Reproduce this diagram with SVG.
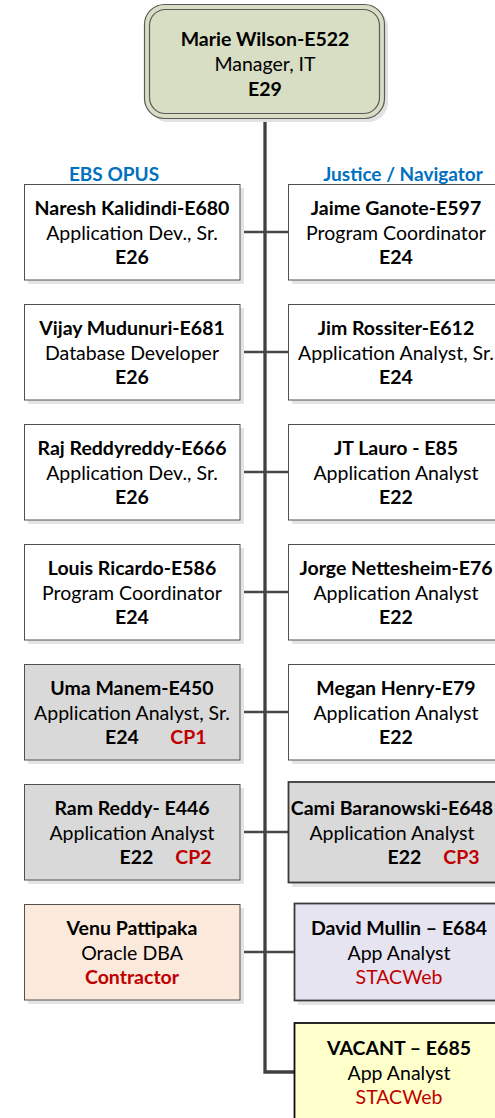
<svg xmlns="http://www.w3.org/2000/svg" width="495" height="1118" viewBox="0 0 495 1118">
  <style>
    text { font-family: Lato, "Liberation Sans", sans-serif; font-size: 19.5px; fill: #000; text-anchor: middle; }
    .b { font-weight: bold; }
    .red { fill: #c00000; }
    .hdr { fill: #0070c0; font-weight: bold; font-size: 19px; }
    .shadow { fill: #e4e4e4; }
    .box { stroke: #505050; stroke-width: 1; }
    .dark { stroke: #3a3a3a; stroke-width: 1.8; }
    .white { fill: #ffffff; }
    .grey { fill: #d9d9d9; }
    .peach { fill: #fbe9db; }
    .lav { fill: #e6e4f0; }
    .yellow { fill: #ffffcc; }
    .link { fill: none; stroke: #474747; stroke-width: 2.5; }
    .trunk { fill: none; stroke: #404040; stroke-width: 3.3; }
  </style>

  <!-- connectors -->
  <g id="connectors">
    <path class="trunk" d="M265 118 V1072 H294"/>
    <path class="link" d="M240 232 H288"/>
    <path class="link" d="M240 352 H288"/>
    <path class="link" d="M240 472 H288"/>
    <path class="link" d="M240 592 H288"/>
    <path class="link" d="M240 712 H288"/>
    <path class="link" d="M240 832 H288"/>
    <path class="link" d="M240 952 H294"/>
  </g>

  <!-- manager -->
  <g id="marie-wilson">
    <rect x="148" y="8" width="240" height="114" rx="20" fill="#e2e2e2"/>
    <rect x="144.5" y="4.5" width="240" height="114" rx="20" fill="#d8dec3" stroke="#5a5a5a" stroke-width="1.2"/>
    <rect x="149.5" y="9.5" width="230" height="104" rx="16" fill="none" stroke="#5a5a5a" stroke-width="1.2"/>
    <text x="265" y="46" class="b">Marie Wilson-E522</text>
    <text x="265" y="71">Manager, IT</text>
    <text x="265" y="96" class="b">E29</text>
  </g>

  <!-- team headings -->
  <text id="hdr-ebs" x="114" y="181" class="hdr">EBS OPUS</text>
  <text id="hdr-justice" x="403" y="181" class="hdr">Justice / Navigator</text>

  <!-- left column -->
  <g id="naresh-kalidindi">
    <rect class="shadow" x="28" y="188" width="216" height="96"/>
    <rect class="box white" x="24.5" y="184.5" width="215.5" height="95.5"/>
    <text x="132" y="215" class="b">Naresh Kalidindi-E680</text>
    <text x="132" y="240">Application Dev., Sr.</text>
    <text x="132" y="264" class="b">E26</text>
  </g>
  <g id="vijay-mudunuri">
    <rect class="shadow" x="28" y="308" width="216" height="96"/>
    <rect class="box white" x="24.5" y="304.5" width="215.5" height="95.5"/>
    <text x="132" y="335" class="b">Vijay Mudunuri-E681</text>
    <text x="132" y="360">Database Developer</text>
    <text x="132" y="384" class="b">E26</text>
  </g>
  <g id="raj-reddyreddy">
    <rect class="shadow" x="28" y="428" width="216" height="96"/>
    <rect class="box white" x="24.5" y="424.5" width="215.5" height="95.5"/>
    <text x="132" y="455" class="b">Raj Reddyreddy-E666</text>
    <text x="132" y="480">Application Dev., Sr.</text>
    <text x="132" y="504" class="b">E26</text>
  </g>
  <g id="louis-ricardo">
    <rect class="shadow" x="28" y="548" width="216" height="96"/>
    <rect class="box white" x="24.5" y="544.5" width="215.5" height="95.5"/>
    <text x="132" y="575" class="b">Louis Ricardo-E586</text>
    <text x="132" y="600">Program Coordinator</text>
    <text x="132" y="624" class="b">E24</text>
  </g>
  <g id="uma-manem">
    <rect class="shadow" x="28" y="668" width="216" height="96"/>
    <rect class="box grey" x="24.5" y="664.5" width="215.5" height="95.5"/>
    <text x="132" y="695" class="b">Uma Manem-E450</text>
    <text x="132" y="720">Application Analyst, Sr.</text>
    <text x="122" y="744" class="b">E24</text>
    <text x="188.5" y="744" class="b red">CP1</text>
  </g>
  <g id="ram-reddy">
    <rect class="shadow" x="28" y="788" width="216" height="96"/>
    <rect class="box grey" x="24.5" y="784.5" width="215.5" height="95.5"/>
    <text x="132" y="815" class="b">Ram Reddy- E446</text>
    <text x="132" y="840">Application Analyst</text>
    <text x="136.5" y="864" class="b">E22</text>
    <text x="193.5" y="864" class="b red">CP2</text>
  </g>
  <g id="venu-pattipaka">
    <rect class="shadow" x="28" y="908" width="216" height="96"/>
    <rect class="box peach" x="24.5" y="904.5" width="215.5" height="95.5"/>
    <text x="132" y="935" class="b">Venu Pattipaka</text>
    <text x="132" y="960">Oracle DBA</text>
    <text x="132" y="984" class="b red">Contractor</text>
  </g>

  <!-- right column -->
  <g id="jaime-ganote">
    <rect class="shadow" x="292" y="188" width="216" height="96"/>
    <rect class="box white" x="288.5" y="184.5" width="215.5" height="95.5"/>
    <text x="396" y="215" class="b">Jaime Ganote-E597</text>
    <text x="396" y="240">Program Coordinator</text>
    <text x="396" y="264" class="b">E24</text>
  </g>
  <g id="jim-rossiter">
    <rect class="shadow" x="292" y="308" width="216" height="96"/>
    <rect class="box white" x="288.5" y="304.5" width="215.5" height="95.5"/>
    <text x="396" y="335" class="b">Jim Rossiter-E612</text>
    <text x="396" y="360">Application Analyst, Sr.</text>
    <text x="396" y="384" class="b">E24</text>
  </g>
  <g id="jt-lauro">
    <rect class="shadow" x="292" y="428" width="216" height="96"/>
    <rect class="box white" x="288.5" y="424.5" width="215.5" height="95.5"/>
    <text x="396" y="455" class="b">JT Lauro - E85</text>
    <text x="396" y="480">Application Analyst</text>
    <text x="396" y="504" class="b">E22</text>
  </g>
  <g id="jorge-nettesheim">
    <rect class="shadow" x="292" y="548" width="216" height="96"/>
    <rect class="box white" x="288.5" y="544.5" width="215.5" height="95.5"/>
    <text x="396" y="575" class="b">Jorge Nettesheim-E76</text>
    <text x="396" y="600">Application Analyst</text>
    <text x="396" y="624" class="b">E22</text>
  </g>
  <g id="megan-henry">
    <rect class="shadow" x="292" y="668" width="216" height="96"/>
    <rect class="box white" x="288.5" y="664.5" width="215.5" height="95.5"/>
    <text x="396" y="695" class="b">Megan Henry-E79</text>
    <text x="396" y="720">Application Analyst</text>
    <text x="396" y="744" class="b">E22</text>
  </g>
  <g id="cami-baranowski">
    <rect class="shadow" x="292" y="786" width="212" height="101"/>
    <rect class="dark grey" x="288.5" y="782" width="208" height="100.5"/>
    <text x="392" y="815" class="b">Cami Baranowski-E648</text>
    <text x="392" y="840">Application Analyst</text>
    <text x="404.5" y="864" class="b">E22</text>
    <text x="461.5" y="864" class="b red">CP3</text>
  </g>
  <g id="david-mullin">
    <rect class="shadow" x="298" y="907" width="210" height="98"/>
    <rect class="dark lav" x="294.5" y="903.5" width="210" height="97"/>
    <text x="399" y="935" class="b">David Mullin – E684</text>
    <text x="399" y="960">App Analyst</text>
    <text x="399" y="984" class="red">STACWeb</text>
  </g>
  <g id="vacant-e685">
    <rect class="dark yellow" x="294.5" y="1023" width="210" height="100" style="stroke:#111"/>
    <text x="399" y="1055" class="b">VACANT – E685</text>
    <text x="399" y="1080">App Analyst</text>
    <text x="399" y="1104" class="red">STACWeb</text>
  </g>
</svg>
